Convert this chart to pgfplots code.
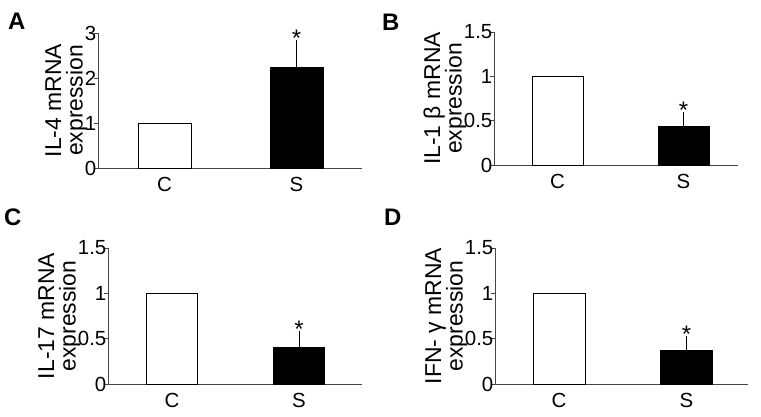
\documentclass[border=0pt]{standalone}
\usepackage{fontspec}
\setmainfont{Liberation Sans}
\usepackage{pgfplots}
\pgfplotsset{compat=1.18}

\definecolor{AxisGray}{RGB}{70,70,70}

\pgfplotsset{
  panel/.style={
    scale only axis,
    anchor=south west,
    axis x line=bottom,
    axis y line=left,
    axis line style={-, AxisGray, line width=0.9bp},
    ymin=0,
    xtick={0,1},
    xticklabels={C,S},
    major x tick style={draw=none},
    tick align=outside,
    major tick length=4bp,
    y tick style={AxisGray, line width=0.9bp},
    tick label style={font=\fontsize{20.5}{20}\selectfont},
    /pgf/number format/assume math mode=true,
    yticklabel style={inner sep=0pt, xshift=2.5bp},
    xticklabel style={inner sep=0pt, yshift=-5bp},
    ylabel style={font=\fontsize{23}{21.5}\selectfont, align=center},
    ylabel shift=-6bp,
    clip=false,
  },
  cbar/.style={ybar, bar shift=0pt, bar width=#1, fill=white, draw=black, line width=0.9bp},
  sbar/.style={ybar, bar shift=0pt, bar width=#1, fill=black, draw=black, line width=0.9bp,
    error bars/.cd, y dir=plus, y explicit, error mark=-,
    error bar style={black, line width=0.9bp},
    error mark options={black, mark size=2.5bp, line width=0.9bp}},
}

\newcommand{\sigstar}[1]{\node[anchor=base, inner sep=0pt, yshift=-4bp, font=\fontsize{24}{24}\selectfont] at (axis cs:1,#1) {*};}
\newcommand{\panel}[3]{\node[anchor=base west, inner sep=0pt, font=\bfseries\fontsize{24}{24}\selectfont] at (#1bp,-#2bp) {#3};}

\begin{document}
\begin{tikzpicture}
\useasboundingbox (0,0) rectangle (761bp,-417bp);

% A: IL-4
\begin{axis}[panel, at={(98bp,-168bp)}, width=264bp, height=135bp,
    xmin=-0.504, xmax=1.496, ymax=3, ytick={0,1,2,3},
    ylabel={IL-4 mRNA\\expression}]
  \addplot[cbar=53bp] coordinates {(0,1)};
  \addplot[sbar=53bp] coordinates {(1,2.24) +- (0,0.56)};
  \sigstar{2.8}
\end{axis}

% B: IL-1 beta
\begin{axis}[panel, at={(494bp,-165bp)}, width=244bp, height=133bp,
    xmin=-0.504, xmax=1.433, ymax=1.5, ytick={0,0.5,1,1.5},
    ylabel={IL-1 β mRNA\\expression}]
  \addplot[cbar=51bp] coordinates {(0,1)};
  \addplot[sbar=51bp] coordinates {(1,0.44) +- (0,0.13)};
  \sigstar{0.57}
\end{axis}

% C: IL-17
\begin{axis}[panel, at={(108bp,-384bp)}, width=254bp, height=136bp,
    xmin=-0.504, xmax=1.496, ymax=1.5, ytick={0,0.5,1,1.5},
    ylabel={IL-17 mRNA\\expression}]
  \addplot[cbar=51bp] coordinates {(0,1)};
  \addplot[sbar=51bp] coordinates {(1,0.40) +- (0,0.16)};
  \sigstar{0.56}
\end{axis}

% D: IFN-gamma
\begin{axis}[panel, at={(495bp,-384bp)}, width=253bp, height=136bp,
    xmin=-0.502, xmax=1.482, ymax=1.5, ytick={0,0.5,1,1.5},
    ylabel={IFN- γ mRNA\\expression}]
  \addplot[cbar=52bp] coordinates {(0,1)};
  \addplot[sbar=52bp] coordinates {(1,0.37) +- (0,0.13)};
  \sigstar{0.50}
\end{axis}

\panel{8}{29}{A}
\panel{382}{30}{B}
\panel{4}{225}{C}
\panel{384}{225}{D}
\end{tikzpicture}
\end{document}
